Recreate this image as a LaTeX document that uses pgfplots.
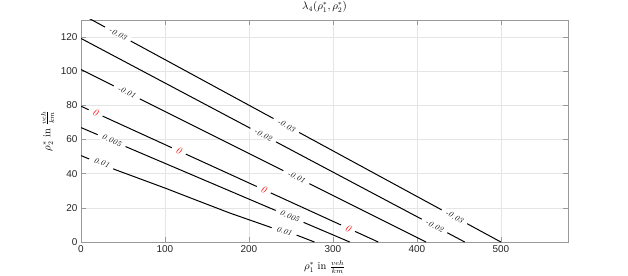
\documentclass[border=0pt]{standalone}
\usepackage{pgfplots}
\pgfplotsset{compat=1.18}
\usepackage{fontspec}
\newfontfamily\arial{Liberation Sans}
\tikzset{
 lab/.style={fill=white, inner xsep=5bp, inner ysep=0.5bp, font=\fontsize{8}{9}\selectfont\itshape, text=black},
 zlab/.style={fill=white, inner xsep=5bp, inner ysep=0.5bp, font=\fontsize{10}{11}\selectfont\itshape, text=red},
}
\begin{document}
\begin{tikzpicture}[x=1bp,y=1bp]
\useasboundingbox (0,0) rectangle (628,275);
\begin{axis}[
 at={(81bp,33bp)}, anchor=south west,
 scale only axis, width=487bp, height=222bp,
 xmin=0, xmax=580, ymin=0, ymax=130,
 xtick={0,100,...,500}, ytick={0,20,...,120},
 grid=major, major grid style={color=black!10, line width=0.4bp},
 axis line style={color=black!40, line width=0.6bp},
 tick style={color=black!40, line width=0.6bp},
 tick align=inside, major tick length=5bp,
 ticklabel style={font=\arial\fontsize{10}{12}\selectfont, color=black!85},
 /pgf/number format/assume math mode=true,
 title={$\lambda_4(\rho_1^*,\rho_2^*)$},
 title style={at={(axis description cs:0.5,1)}, anchor=south, inner sep=0pt, yshift=1.5bp, font=\fontsize{10.5}{12}\selectfont},
 xlabel={$\rho_1^*$ in $\frac{veh}{km}$},
 xlabel style={at={(axis description cs:0.5,-0.083)}, anchor=north, inner sep=0pt, font=\fontsize{10.5}{12}\selectfont},
 ylabel={$\rho_2^*$ in $\frac{veh}{km}$},
 ylabel style={at={(axis description cs:-0.055,0.5)}, anchor=south, inner sep=0pt, font=\fontsize{10.5}{12}\selectfont},
]
% contour -0.03
\addplot[black, line width=1bp] coordinates {(0,133.5) (500,0)};
% contour -0.02
\addplot[black, line width=1bp] coordinates {(0,119.2) (457,0)};
% contour -0.01
\addplot[black, line width=1bp] coordinates {(0,101) (411,0)};
% contour 0
\addplot[black, line width=1bp] coordinates {(0,79.5) (354,0)};
% contour 0.005
\addplot[black, line width=1bp] coordinates {(0,67) (320,0)};
% contour 0.01
\addplot[black, line width=1bp] coordinates {(0,50.6) (40,42.5) (100,31.6) (141,23.8) (177,17) (227,8.4) (257,4) (278,0)};

\node[lab, rotate=-28.5] at (axis cs:44,121.8) {-0.03};
\node[lab, rotate=-28.5] at (axis cs:244.5,68.2) {-0.03};
\node[lab, rotate=-28.5] at (axis cs:444.7,14.8) {-0.03};
\node[lab, rotate=-27.9] at (axis cs:217,62.6) {-0.02};
\node[lab, rotate=-27.9] at (axis cs:421,9.4) {-0.02};
\node[lab, rotate=-26.6] at (axis cs:54.5,87.6) {-0.01};
\node[lab, rotate=-26.6] at (axis cs:256.5,38.0) {-0.01};
\node[zlab, rotate=-24.6] at (axis cs:17.4,75.6) {0};
\node[zlab, rotate=-24.6] at (axis cs:116.5,53.3) {0};
\node[zlab, rotate=-24.6] at (axis cs:217.6,30.6) {0};
\node[zlab, rotate=-24.6] at (axis cs:318,8.1) {0};
\node[lab, rotate=-23.1] at (axis cs:36.5,59.4) {0.005};
\node[lab, rotate=-23.1] at (axis cs:248.5,15.0) {0.005};
\node[lab, rotate=-21] at (axis cs:24.6,46.4) {0.01};
\node[lab, rotate=-19] at (axis cs:242,6.3) {0.01};
\end{axis}
\end{tikzpicture}
\end{document}
